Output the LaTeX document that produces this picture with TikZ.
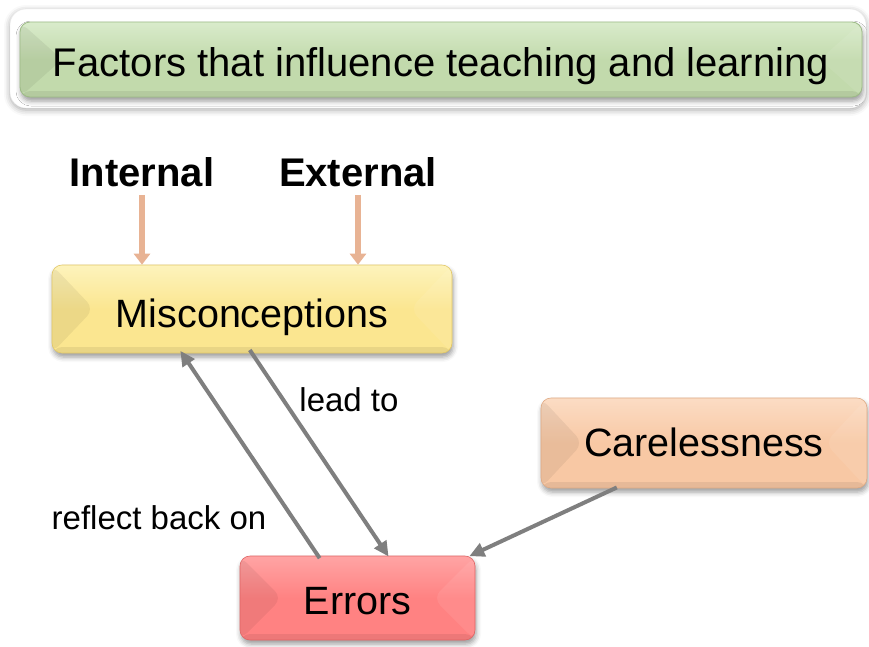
\documentclass[tikz,border=0pt]{standalone}
\usepackage{fontspec}
\setmainfont{Liberation Sans}
\usetikzlibrary{arrows.meta,shadows.blur,calc}

\definecolor{titlefill}{HTML}{C2DAAC}
\definecolor{titletop}{HTML}{D9EBCB}
\definecolor{titleedge}{HTML}{9DBB86}
\definecolor{misfill}{HTML}{FBE690}
\definecolor{mistop}{HTML}{FDF3BC}
\definecolor{misedge}{HTML}{E3C866}
\definecolor{carefill}{HTML}{F8C8A4}
\definecolor{caretop}{HTML}{FBDCC4}
\definecolor{careedge}{HTML}{E0AA84}
\definecolor{errfill}{HTML}{FF8282}
\definecolor{errtop}{HTML}{FFA4A4}
\definecolor{erredge}{HTML}{E06464}
\definecolor{feedarrow}{HTML}{E8B394}
\definecolor{linkgray}{HTML}{7F7F7F}

\tikzset{
  bevelbox/.style={
    rounded corners=10pt, inner sep=0pt, text depth=0pt,
    blur shadow={shadow xshift=1pt, shadow yshift=-4pt,
                 shadow blur radius=5pt, shadow opacity=40},
    font=\fontsize{39.5}{42}\selectfont,
    path picture={
      \fill[black,opacity=0.06]
        (path picture bounding box.north west)
        -- ($(path picture bounding box.west)+(42pt,0pt)$)
        -- (path picture bounding box.south west) -- cycle;
      \fill[white,opacity=0.08]
        (path picture bounding box.north east)
        -- ($(path picture bounding box.east)+(-42pt,0pt)$)
        -- (path picture bounding box.south east) -- cycle;
      \fill[black,opacity=0.07]
        ($(path picture bounding box.south west)+(0pt,6pt)$)
        rectangle (path picture bounding box.south east);
    }},
  headword/.style={font=\bfseries\fontsize{40}{42}\selectfont, inner sep=2pt},
  feed/.style={draw=feedarrow, line width=6pt,
    -{Triangle[width=16pt,length=11pt]}},
  link/.style={draw=linkgray, line width=4pt,
    -{Triangle[width=14pt,length=15pt]}},
  linklabel/.style={font=\fontsize{33}{36}\selectfont, inner sep=0pt}
}

\begin{document}
\begin{tikzpicture}[x=1pt,y=-1pt]
  \useasboundingbox (0,0) rectangle (869,646);

  % heading panel: white frame with the green title bar inside
  \node (frame) [rounded corners=16pt, fill=white, draw=black!8,
    blur shadow={shadow xshift=0pt, shadow yshift=-2pt,
                 shadow blur radius=6pt, shadow opacity=35},
    minimum width=856pt, minimum height=99pt] at (438,58.5) {};
  \node (title) [bevelbox, draw=titleedge, line width=0.8pt,
    top color=titletop, bottom color=titlefill, middle color=titlefill,
    minimum width=842pt, minimum height=75pt, text height=33pt,
    font=\fontsize{40}{42}\selectfont] at (441,59.5)
    {Factors that influence teaching and learning};

  % factor headings
  \node (int) [headword] at (142,172) {Internal};
  \node (ext) [headword] at (358,172) {External};

  % concept boxes
  \node (mis) [bevelbox, draw=misedge, line width=0.6pt,
    top color=mistop, bottom color=misfill, middle color=misfill,
    minimum width=400pt, minimum height=88pt, text height=36pt]
    at (252,309) {Misconceptions};
  \node (care) [bevelbox, draw=careedge, line width=0.6pt,
    top color=caretop, bottom color=carefill, middle color=carefill,
    minimum width=326pt, minimum height=90pt, text height=26pt]
    at (704,443) {Carelessness};
  \node (err) [bevelbox, draw=erredge, line width=0.6pt,
    top color=errtop, bottom color=errfill, middle color=errfill,
    minimum width=235pt, minimum height=84pt, text height=32pt]
    at (357.5,598) {Errors};

  % influences feeding into misconceptions
  \draw[feed] ([yshift=-6pt]int.south) -- (int.south |- mis.north);
  \draw[feed] ([yshift=-6pt]ext.south) -- (ext.south |- mis.north);

  % relations between the boxes
  \draw[link, shorten <=-3pt, shorten >=-3pt]
    ([xshift=-39.5pt]err.north) -- ([xshift=-70pt]mis.south);
  \draw[link, shorten <=-4pt, shorten >=-1pt]
    (mis.south) -- ([xshift=30.5pt]err.north);
  \draw[link, shorten <=-2pt, shorten >=-1pt]
    ([xshift=-89pt]care.south) -- ([xshift=-5pt]err.north east);

  \node (leadto) [linklabel] at (349,400) {lead to};
  \node (reflect) [linklabel] at (159,518) {reflect back on};
\end{tikzpicture}
\end{document}
